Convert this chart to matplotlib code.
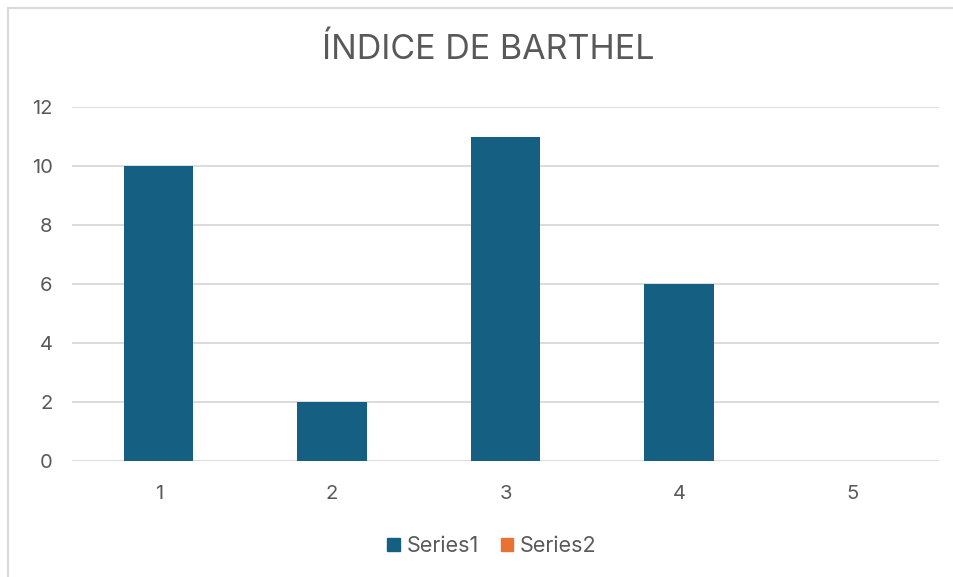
import matplotlib.pyplot as plt
from matplotlib.patches import Patch
from matplotlib.lines import Line2D

categories = ['1', '2', '3', '4', '5']
series1 = [10, 2, 11, 6, 0]
series2 = []  # no values shown for Series2

plt.rcParams['font.family'] = ['Inter', 'DejaVu Sans']
text_color = '#595959'
blue = '#156082'
orange = '#E97132'

fig = plt.figure(figsize=(9.54, 5.77), dpi=100)
ax = fig.add_axes([72 / 954, 1 - 461 / 577, (939 - 72) / 954, (461 - 107) / 577])

x = list(range(1, len(categories) + 1))
ax.bar(x, series1, width=0.40, color=blue, zorder=3)
ax.bar([], series2, color=orange)

ax.set_xlim(0.5, len(categories) + 0.5)
ax.set_ylim(0, 12)
ax.set_yticks(range(0, 13, 2))
ax.set_xticks(x)
ax.set_xticklabels(categories)
ax.grid(axis='y', color='#d9d9d9', linewidth=1.3, zorder=0)
ax.tick_params(length=0, labelsize=14.5, labelcolor=text_color)
ax.tick_params(axis='x', pad=17)
ax.tick_params(axis='y', pad=14)
for s in ax.spines.values():
    s.set_visible(False)

fig.text(488 / 954, 1 - 50 / 577, 'ÍNDICE DE BARTHEL', ha='center', va='center',
         fontsize=24.5, color=text_color)

handles = [Patch(color=blue), Patch(color=orange)]
fig.legend(handles, ['Series1', 'Series2'], loc='center', bbox_to_anchor=(492 / 954, 1 - 546 / 577),
           ncol=2, frameon=False, fontsize=15.5, labelcolor=text_color,
           handlelength=0.6, handleheight=0.6, handletextpad=0.3, columnspacing=1.0)

# chart border (only top and left visible in the crop)
fig.add_artist(Line2D([8 / 954, 1], [1 - 8 / 577, 1 - 8 / 577], color='#d9d9d9', linewidth=1.5))
fig.add_artist(Line2D([8 / 954, 8 / 954], [0, 1 - 8 / 577], color='#d9d9d9', linewidth=1.5))

fig.savefig('out.png', dpi=100)
